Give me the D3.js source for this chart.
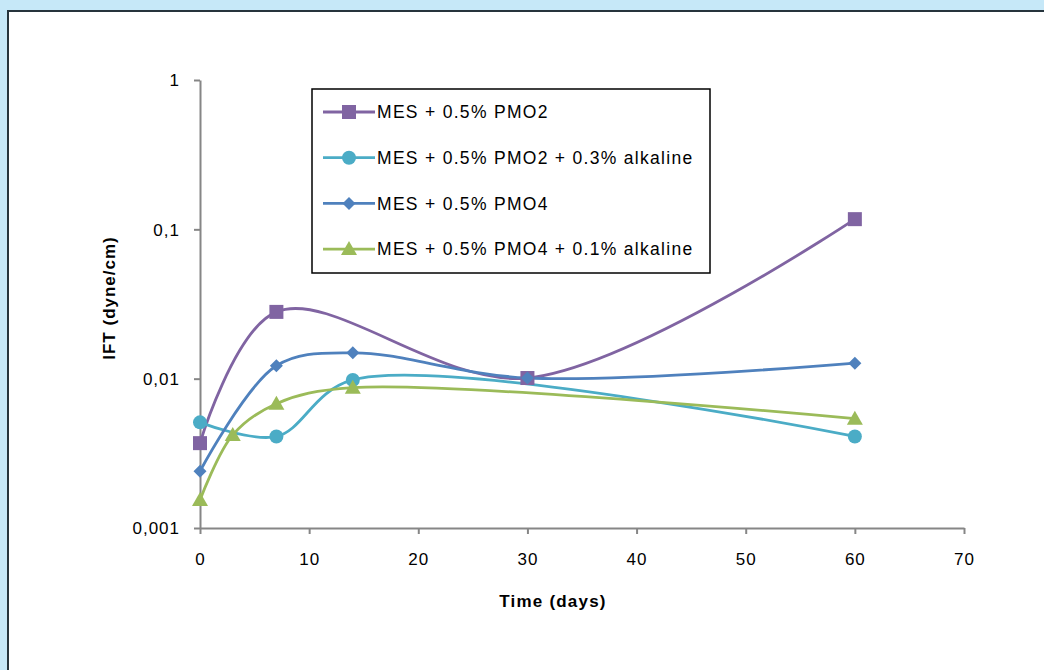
<!DOCTYPE html>
<html><head><meta charset="utf-8">
<script src="https://cdn.jsdelivr.net/npm/d3@7"></script>
<style>
html,body{margin:0;padding:0;background:#c6e8f8;overflow:hidden}
svg{display:block}
</style></head>
<body>
<svg id="c" width="1044" height="670"></svg>
<script>
const seriesNames = ["MES + 0.5% PMO2","MES + 0.5% PMO2 + 0.3% alkaline","MES + 0.5% PMO4","MES + 0.5% PMO4 + 0.1% alkaline"];
const pmo2Days = [0, 7, 30, 60];
const pmo2Vals = [0.0037, 0.028, 0.0101, 0.117];
const pmo2AlkDays = [0, 7, 14, 60];
const pmo2AlkVals = [0.0051, 0.0041, 0.0098, 0.0041];
const pmo4Days = [0, 7, 14, 30, 60];
const pmo4Vals = [0.0024, 0.0122, 0.0149, 0.0101, 0.0127];
const pmo4AlkDays = [0, 3, 7, 14, 60];
const pmo4AlkVals = [0.00154, 0.0042, 0.0068, 0.0087, 0.0054];
const xTicks = [0,10,20,30,40,50,60,70];
const yTicks = [0.001,0.01,0.1,1];
const yTickLabels = ["0,001","0,01","0,1","1"];
const colors = ["#8064a2","#4bacc6","#4f81bd","#9bbb59"];

const series = [
  {days: pmo2Days, vals: pmo2Vals},
  {days: pmo2AlkDays, vals: pmo2AlkVals},
  {days: pmo4Days, vals: pmo4Vals},
  {days: pmo4AlkDays, vals: pmo4AlkVals}
];

function marker(sel, i) {
  if (i === 0) sel.append("rect").attr("x",-7).attr("y",-7).attr("width",14).attr("height",14).attr("fill",colors[i]);
  else if (i === 1) sel.append("circle").attr("r",7).attr("fill",colors[i]);
  else if (i === 2) sel.append("rect").attr("x",-4.6).attr("y",-4.6).attr("width",9.2).attr("height",9.2).attr("transform","rotate(45)").attr("fill",colors[i]);
  else sel.append("path").attr("d","M0,-8L8,6L-8,6Z").attr("fill",colors[i]);
}

const svg = d3.select("#c");
svg.append("rect").attr("x",8).attr("y",11).attr("width",1100).attr("height",700)
  .attr("fill","#fff").attr("stroke","#26343c").attr("stroke-width",2);

const x = d3.scaleLinear().domain([0,70]).range([200,964]);
const y = d3.scaleLog().domain([0.001,1]).range([528,80]);
const font = "'Liberation Sans', Arial, sans-serif";

const xAxis = svg.append("g").attr("transform","translate(0,528)")
  .call(d3.axisBottom(x).tickValues(xTicks).tickSize(6).tickSizeOuter(0).tickPadding(19));
const yAxis = svg.append("g").attr("transform","translate(200,0)")
  .call(d3.axisLeft(y).tickValues(yTicks).tickFormat((d,i)=>yTickLabels[i]).tickSize(6).tickSizeOuter(0).tickPadding(14));
[xAxis,yAxis].forEach(a=>{
  a.select(".domain").attr("stroke","#868686").attr("stroke-width",2);
  a.selectAll(".tick line").attr("stroke","#868686").attr("stroke-width",2);
  a.selectAll(".tick text").attr("fill","#000").style("font-family",font).style("font-size","17px").style("letter-spacing","1px");
});
yAxis.selectAll(".tick text").attr("dy","0.35em");

svg.append("text").attr("x",553).attr("y",607).attr("text-anchor","middle")
  .style("font-family",font).style("font-size","17px").style("font-weight","bold").style("letter-spacing","1.2px").text("Time (days)");
svg.append("text").attr("transform","translate(115,298) rotate(-90)").attr("text-anchor","middle")
  .style("font-family",font).style("font-size","17px").style("font-weight","bold").style("letter-spacing","1px").text("IFT (dyne/cm)");

const line = d3.line().x(d=>x(d[0])).y(d=>y(d[1])).curve(d3.curveCatmullRom.alpha(0.5));
series.forEach((s,i)=>{
  const pts = s.days.map((d,j)=>[d,s.vals[j]]);
  svg.append("path").datum(pts).attr("d",line).attr("fill","none")
    .attr("stroke",colors[i]).attr("stroke-width",2.8);
});
series.forEach((s,i)=>{
  s.days.forEach((d,j)=>{
    const g = svg.append("g").attr("transform",`translate(${x(d)},${y(s.vals[j])})`);
    marker(g, i);
  });
});

const lg = svg.append("g");
lg.append("rect").attr("x",312).attr("y",89).attr("width",398).attr("height",184)
  .attr("fill","#fff").attr("stroke","#000").attr("stroke-width",1.5);
seriesNames.forEach((n,i)=>{
  const yy = 112 + i*45.7;
  lg.append("line").attr("x1",323).attr("x2",375).attr("y1",yy).attr("y2",yy)
    .attr("stroke",colors[i]).attr("stroke-width",2.8);
  marker(lg.append("g").attr("transform",`translate(349,${yy})`), i);
  lg.append("text").attr("x",377).attr("y",yy).attr("dy","0.35em")
    .style("font-family",font).style("font-size","17.5px").style("letter-spacing","1.3px").text(n);
});
</script>
</body></html>
